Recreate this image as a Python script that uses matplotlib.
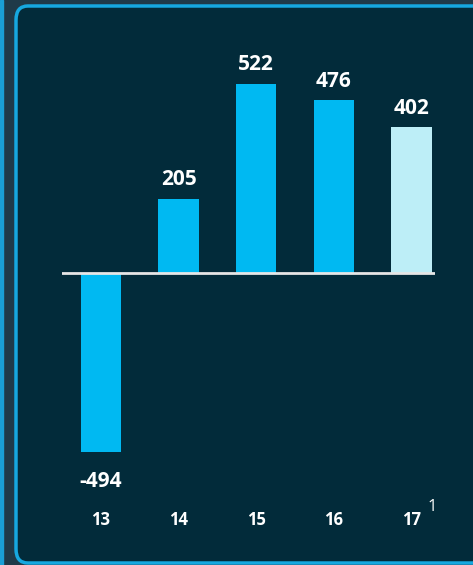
import matplotlib
matplotlib.use("Agg")
import matplotlib.pyplot as plt
from matplotlib.patches import FancyBboxPatch, Rectangle

years = ["13", "14", "15", "16", "17"]
values = [-494, 205, 522, 476, 402]
bar_colors = ["#00b9f2", "#00b9f2", "#00b9f2", "#00b9f2", "#bdeef7"]

W, H = 473, 565
fig = plt.figure(figsize=(W / 100, H / 100), dpi=100, facecolor="#1f3a49")

# left neighbour panel edge
fig.patches.append(Rectangle((0, 0), 2.5 / W, 1, transform=fig.transFigure,
                             color="#1a9fd6", zorder=-2))
# main panel with rounded light-blue border
fig.patches.append(FancyBboxPatch((16 / W, 2 / H), (W + 20) / W, (H - 8) / H,
                                  boxstyle="round,pad=0,rounding_size=0.025",
                                  transform=fig.transFigure,
                                  facecolor="#022b3a", edgecolor="#16a8e0",
                                  linewidth=2.5, zorder=-1))

ax = fig.add_axes([62 / W, (H - 500) / H, 373 / W, 460 / H])
ax.set_facecolor("none")
x = list(range(len(years)))
ax.bar(x, values, width=0.52, color=bar_colors, zorder=2)
ax.axhline(0, color="#e6e6e6", lw=2, zorder=3)

for xi, v in zip(x, values):
    ax.annotate(str(v), xy=(xi, v), xytext=(0, 6 if v > 0 else -14),
                textcoords="offset points", ha="center",
                va="bottom" if v > 0 else "top",
                color="white", fontsize=15, fontweight="bold", family="Open Sans")

ax.set_xlim(-0.5, 4.3)
ax.set_ylim(-627, 643)
ax.set_xticks(x, years)
ax.tick_params(axis="x", length=0, pad=8, labelcolor="white", labelsize=12)
for lbl in ax.get_xticklabels():
    lbl.set_fontweight("bold")
    lbl.set_family("Open Sans")
ax.set_yticks([])
for s in ax.spines.values():
    s.set_visible(False)

ax.annotate("1", xy=(4, 0), xycoords=("data", "axes fraction"),
            xytext=(15, -5), textcoords="offset points", ha="center", va="center",
            color="white", fontsize=12, family="Open Sans")

fig.savefig("out.png", dpi=100, facecolor=fig.get_facecolor())
